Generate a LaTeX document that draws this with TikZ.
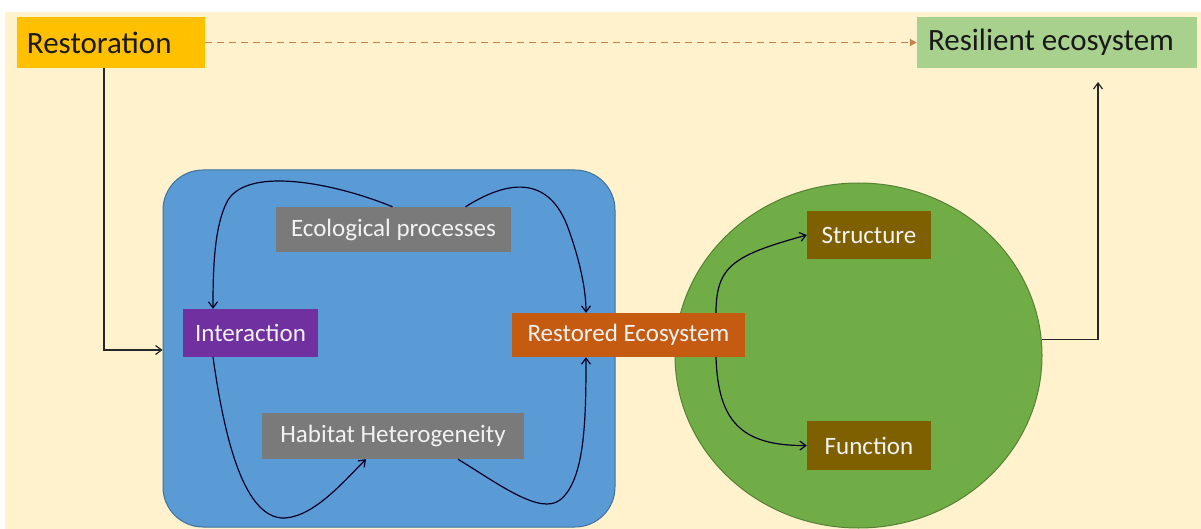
\documentclass[tikz,border=0pt]{standalone}
\usepackage{fontspec}
\setmainfont{Carlito}
\usetikzlibrary{arrows.meta,shapes.geometric}
\definecolor{cream}{HTML}{FFF2CC}
\definecolor{restc}{HTML}{FFC000}
\definecolor{resil}{HTML}{A9D18E}
\definecolor{bluebox}{HTML}{5B9BD5}
\definecolor{blueedge}{HTML}{41719C}
\definecolor{grayb}{HTML}{7A7A7A}
\definecolor{purp}{HTML}{7030A0}
\definecolor{orng}{HTML}{C55A11}
\definecolor{greenell}{HTML}{70AD47}
\definecolor{greenedge}{HTML}{548235}
\definecolor{brownb}{HTML}{7F6000}
\definecolor{dashc}{HTML}{C8804F}
\tikzset{
  topbox/.style={inner sep=0pt, minimum height=51pt},
  toptext/.style={inner sep=0pt, anchor=west, font=\fontsize{31}{34}\selectfont, text=black!90},
  inbox/.style={inner sep=0pt, font=\fontsize{25}{28}\selectfont, text=white!95!black},
  conn/.style={draw=black!85, line width=1.2pt, -{Straight Barb[length=6pt,width=9pt]}},
  curv/.style={draw=black!85!blue, line width=1.2pt, -{Straight Barb[length=6pt,width=9pt]}},
}
\begin{document}
\begin{tikzpicture}[x=1pt,y=-1pt]
\useasboundingbox (0,0) rectangle (1201,529);
\fill[white] (0,0) rectangle (1201,529);
\fill[cream] (5,12) rectangle (1201,529);
% containers
\node[draw=blueedge, fill=bluebox, line width=1pt, rounded corners=40pt, minimum width=452pt, minimum height=357pt, inner sep=0pt] (blue) at (389,348.5) {};
\node[draw=greenedge, fill=greenell, line width=1pt, ellipse, minimum width=367pt, minimum height=345pt, inner sep=0pt] (green) at (858.5,355.5) {};
% top boxes
\node[topbox, fill=restc, minimum width=188pt] (rest) at (111,42.5) {};
\node[toptext] (resttxt) at ([xshift=10pt]rest.west) {Restoration};
\node[topbox, fill=resil, minimum width=280pt] (resil) at (1057,42.5) {};
\node[toptext] (resiltxt) at ([xshift=11pt]resil.west) {Resilient ecosystem};
% inner boxes
\node[inbox, fill=grayb, minimum width=235pt, minimum height=45pt] (eco) at (393.5,229.5) {Ecological processes};
\node[inbox, fill=purp, minimum width=135pt, minimum height=48pt] (inter) at (250.5,333) {Interaction};
\node[inbox, fill=grayb, minimum width=262pt, minimum height=46pt] (hab) at (393,436) {Habitat Heterogeneity};
\node[inbox, fill=orng, minimum width=233pt, minimum height=44pt] (restd) at (628.5,335) {Restored Ecosystem};
\node[inbox, fill=brownb, minimum width=124pt, minimum height=48pt] (struct) at (869,235) {Structure};
\node[inbox, fill=brownb, minimum width=124pt, minimum height=49pt] (func) at (869,445.5) {Function};
% connectors
\draw[dash pattern=on 7pt off 5pt, draw=dashc, line width=1.8pt, -{Triangle[length=7pt,width=7pt]}] (rest.east) -- (resil.west);
\draw[conn] (rest.south -| 104,0) |- (blue.west |- 0,350);
\coordinate (upend) at (1098,82);
\draw[conn] (green.5.5) -- (green.5.5 -| upend) -- (upend);
% curves in blue box
\draw[curv] ([xshift=-1pt]eco.north) .. controls (340,185) and (250,165) .. (228,200)
  .. controls (214,225) and (213,270) .. (inter.north -| 213,0);
\draw[curv] ([xshift=72pt]eco.north) .. controls (500,185) and (545,170) .. (567,225)
  .. controls (580,260) and (586,290) .. (restd.north -| 586,0);
\draw[curv] (inter.south -| 213,0) .. controls (222,420) and (240,520) .. (285,518)
  .. controls (315,516) and (345,480) .. (hab.south -| 366,0);
\draw[curv] (hab.south -| 458,0) .. controls (500,485) and (540,515) .. (560,500)
  .. controls (585,480) and (586,420) .. (restd.south -| 586,0);
% curves in green ellipse
\draw[curv] (restd.north -| 716,0) .. controls (716,265) and (735,255) .. (struct.west);
\draw[curv] (restd.south -| 716,0) .. controls (718,420) and (740,446) .. (func.west);
\end{tikzpicture}
\end{document}
